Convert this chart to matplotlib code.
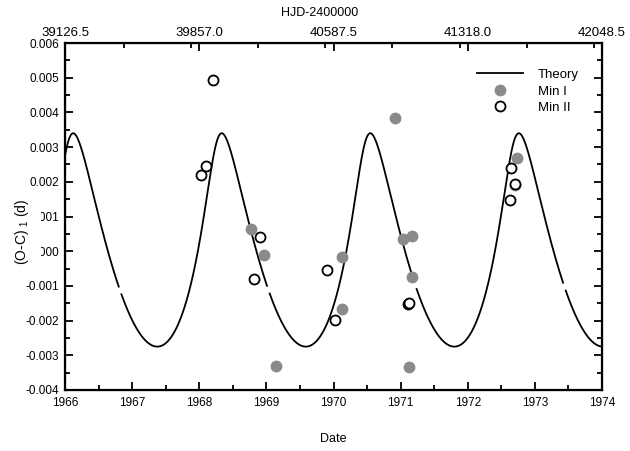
import matplotlib
matplotlib.use("Agg")
import matplotlib.pyplot as plt
import numpy as np
from matplotlib.patches import Rectangle
from matplotlib.ticker import FormatStrFormatter, MultipleLocator

plt.rcParams["font.family"] = ["Liberation Sans", "DejaVu Sans"]
plt.rcParams["mathtext.default"] = "regular"

# Min I (primary minima)
min1_year = [1968.77, 1968.97, 1969.15, 1970.12, 1970.12, 1970.91,
             1971.03, 1971.17, 1971.17, 1971.12, 1972.74, 1972.71]
min1_oc = [0.00064, -0.00010, -0.00331, -0.00016, -0.00166, 0.00383,
           0.00034, 0.00045, -0.00075, -0.00333, 0.00269, 0.00190]

# Min II (secondary minima)
min2_year = [1968.02, 1968.10, 1968.20, 1968.81, 1968.91, 1969.90,
             1970.02, 1971.11, 1971.13, 1972.63, 1972.65, 1972.70]
min2_oc = [0.00219, 0.00245, 0.00493, -0.00080, 0.00041, -0.00055,
           -0.00198, -0.00152, -0.00148, 0.00148, 0.00239, 0.00195]

# light-time orbit used for the theory curve
orbit_period = 2.213      # years
orbit_t0 = 1966.04        # periastron passage
orbit_ecc = 0.486
orbit_omega_deg = 61.7
orbit_amp = 0.00316       # days
orbit_offset = 0.000325   # days
curve_gaps = [1966.82, 1969.03, 1971.22, 1973.44]

hjd_ticks = [39126.5, 39857.0, 40587.5, 41318.0, 42048.5]


def theory(t):
    m = 2 * np.pi * (t - orbit_t0) / orbit_period
    ecc_anom = m.copy()
    for _ in range(50):
        ecc_anom = ecc_anom - (ecc_anom - orbit_ecc * np.sin(ecc_anom) - m) / (1 - orbit_ecc * np.cos(ecc_anom))
    w = np.radians(orbit_omega_deg)
    z = np.sqrt(1 - orbit_ecc ** 2) * np.sin(ecc_anom) * np.cos(w) + np.cos(ecc_anom) * np.sin(w)
    return orbit_offset + orbit_amp * z


t = np.linspace(1966.0, 1974.0, 2000)
oc = theory(t)
for g in curve_gaps:
    oc[np.abs(t - g) < 0.018] = np.nan

fig = plt.figure(figsize=(6.3, 4.51), dpi=100)
ax = fig.add_axes([65 / 630, 1 - 390 / 451, 537 / 630, 347 / 451])

ax.plot(t, oc, color="black", lw=1.3, label="Theory")
ax.plot(min1_year, min1_oc, "o", ls="none", ms=7.5, mfc="#8a8a8a", mec="#8a8a8a", label="Min I")
ax.plot(min2_year, min2_oc, "o", ls="none", ms=7.2, mfc="white", mec="black", mew=1.3, label="Min II")

ax.set_xlim(1966, 1974)
ax.set_ylim(-0.004, 0.006)
ax.xaxis.set_major_locator(MultipleLocator(1))
ax.xaxis.set_minor_locator(MultipleLocator(0.5))
ax.yaxis.set_major_locator(MultipleLocator(0.001))
ax.yaxis.set_minor_locator(MultipleLocator(0.0005))
ax.yaxis.set_major_formatter(FormatStrFormatter("%.3f"))
ax.tick_params(which="both", direction="in", right=True, width=1.3, labelsize=8.5)
ax.tick_params(which="major", length=6, pad=4)
ax.tick_params(which="minor", length=3.5)
ax.tick_params(axis="x", pad=5)
for s in ax.spines.values():
    s.set_linewidth(1.6)
ax.set_xlabel("Date", fontsize=9, labelpad=17)

top = ax.twiny()
top.set_xlim(hjd_ticks[0], hjd_ticks[-1])
top.set_xticks(hjd_ticks)
top.set_xticklabels([f"{v:.1f}" for v in hjd_ticks])
top.xaxis.set_minor_locator(MultipleLocator(365.25))
top.tick_params(which="both", direction="in", width=1.3, labelsize=9.5, pad=3)
top.tick_params(which="major", length=6)
top.tick_params(which="minor", length=3.5)
top.set_xlabel("HJD-2400000", fontsize=9)
top.xaxis.set_label_coords((320 - 65) / 537, 1 + 27 / 347)

ax.legend(loc="upper left", bbox_to_anchor=(0.767, 0.926), frameon=False, fontsize=9.5,
          numpoints=1, handlelength=3.5, handletextpad=1.1, labelspacing=0.33,
          borderpad=0, borderaxespad=0)

# the y label sits on a white box that hides part of two tick labels
fig.add_artist(Rectangle((0, 1 - 268 / 451), 41 / 630, 68 / 451, transform=fig.transFigure,
                         facecolor="white", edgecolor="none", zorder=5))
fig.text(22 / 630, 1 - 232 / 451, "(O-C) $_1$ (d)", rotation=90, fontsize=10,
         ha="center", va="center", zorder=6)

fig.savefig("out.png", dpi=100)
